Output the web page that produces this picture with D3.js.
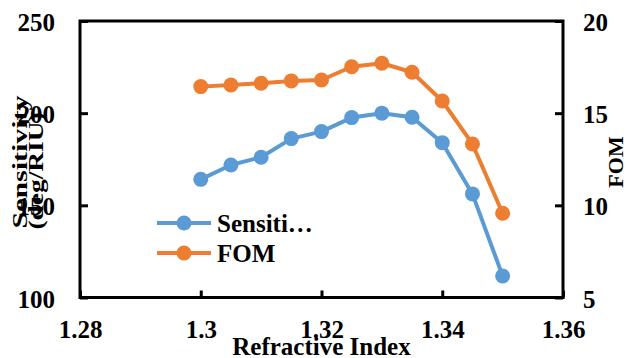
<!DOCTYPE html>
<html><head><meta charset="utf-8">
<script src="https://cdn.jsdelivr.net/npm/d3@7"></script>
<style>body{margin:0;background:#fff}svg{display:block}</style>
</head><body><svg id="c" width="636" height="358"></svg>
<script>
const refractiveIndex = [1.30, 1.305, 1.31, 1.315, 1.32, 1.325, 1.33, 1.335, 1.34, 1.345, 1.35];
const sensitivity = [164.1, 171.9, 176.1, 186.2, 190.0, 197.6, 200.0, 197.8, 184.0, 156.2, 111.7];
const fom = [16.44, 16.53, 16.62, 16.75, 16.8, 17.52, 17.71, 17.22, 15.66, 13.33, 9.57];
const xTicks = [1.28, 1.30, 1.32, 1.34, 1.36];
const xTickLabels = ["1.28", "1.3", "1.32", "1.34", "1.36"];
const yLeftTicks = [100, 150, 200, 250];
const yRightTicks = [5, 10, 15, 20];
const seriesNames = ["Sensiti…", "FOM"];
const colors = ["#5B9BD5", "#ED7D31"];

const FONT = "'Liberation Serif', 'Times New Roman', Tinos, 'DejaVu Serif', serif";
const svg = d3.select("#c");
const L = 80, R = 563, T = 21, B = 297.5;
const x = d3.scaleLinear().domain([1.28, 1.36]).range([L, R]);
const yL = d3.scaleLinear().domain([100, 250]).range([B, T]);
const yR = d3.scaleLinear().domain([5, 20]).range([B, T]);
const fs = 25;

function styleText(sel, size) {
  return sel.style("font-family", FONT).style("font-weight", "bold").style("font-size", size + "px").style("fill", "#000");
}

// series
function drawSeries(vals, scale, color) {
  const line = d3.line().x((d, i) => x(refractiveIndex[i])).y(d => scale(d));
  svg.append("path").datum(vals).attr("d", line).attr("fill", "none")
    .attr("stroke", color).attr("stroke-width", 4).attr("stroke-linejoin", "round");
  svg.append("g").selectAll("circle").data(vals).join("circle")
    .attr("cx", (d, i) => x(refractiveIndex[i])).attr("cy", d => scale(d))
    .attr("r", 7.5).attr("fill", color);
}
drawSeries(sensitivity, yL, colors[0]);
drawSeries(fom, yR, colors[1]);

// frame
svg.append("rect").attr("x", L).attr("y", T).attr("width", R - L).attr("height", B - T)
  .attr("fill", "none").attr("stroke", "#000").attr("stroke-width", 3);

// axes via d3 axis generators
const axB = d3.axisBottom(x).tickValues(xTicks).tickFormat((d, i) => xTickLabels[i]).tickSizeInner(-7).tickSizeOuter(0).tickPadding(23);
const gB = svg.append("g").attr("transform", `translate(0,${B})`).call(axB);
const axL = d3.axisLeft(yL).tickValues(yLeftTicks).tickSizeInner(-8).tickSizeOuter(0).tickPadding(25);
const gL = svg.append("g").attr("transform", `translate(${L},0)`).call(axL);
const axR = d3.axisRight(yR).tickValues(yRightTicks).tickSizeInner(-8).tickSizeOuter(0).tickPadding(20);
const gR = svg.append("g").attr("transform", `translate(${R},0)`).call(axR);
[gB, gL, gR].forEach(g => {
  g.attr("font-family", null).attr("font-size", null);
  g.select(".domain").remove();
  g.selectAll(".tick line").attr("stroke", "#000").attr("stroke-width", 3);
  styleText(g.selectAll(".tick text"), fs);
});
gL.selectAll(".tick text").attr("dy", "0.38em");
gR.selectAll(".tick text").attr("dy", "0.38em");
gB.selectAll(".tick text").attr("dy", "0.71em");

// axis titles
styleText(svg.append("text").attr("x", (L + R) / 2).attr("y", 355).attr("text-anchor", "middle").text("Refractive Index"), fs);
styleText(svg.append("text").attr("transform", "translate(27,162) rotate(-90)").attr("text-anchor", "middle")
  .attr("textLength", 133).attr("lengthAdjust", "spacingAndGlyphs").text("Sensitivity"), 22);
styleText(svg.append("text").attr("transform", "translate(43,171) rotate(-90)").attr("text-anchor", "middle")
  .attr("textLength", 117).attr("lengthAdjust", "spacingAndGlyphs").text("(deg/RIU)"), 22);
styleText(svg.append("text").attr("transform", "translate(623,162) rotate(-90)").attr("text-anchor", "middle").text("FOM"), 22);

// legend
const lg = svg.append("g");
seriesNames.forEach((n, i) => {
  const yy = 223 + i * 30;
  lg.append("line").attr("x1", 157).attr("x2", 211).attr("y1", yy).attr("y2", yy)
    .attr("stroke", colors[i]).attr("stroke-width", 4);
  lg.append("circle").attr("cx", 184).attr("cy", yy).attr("r", 7.5).attr("fill", colors[i]);
  styleText(lg.append("text").attr("x", 217).attr("y", yy).attr("dy", "0.35em").text(n), fs);
});
</script></body></html>
